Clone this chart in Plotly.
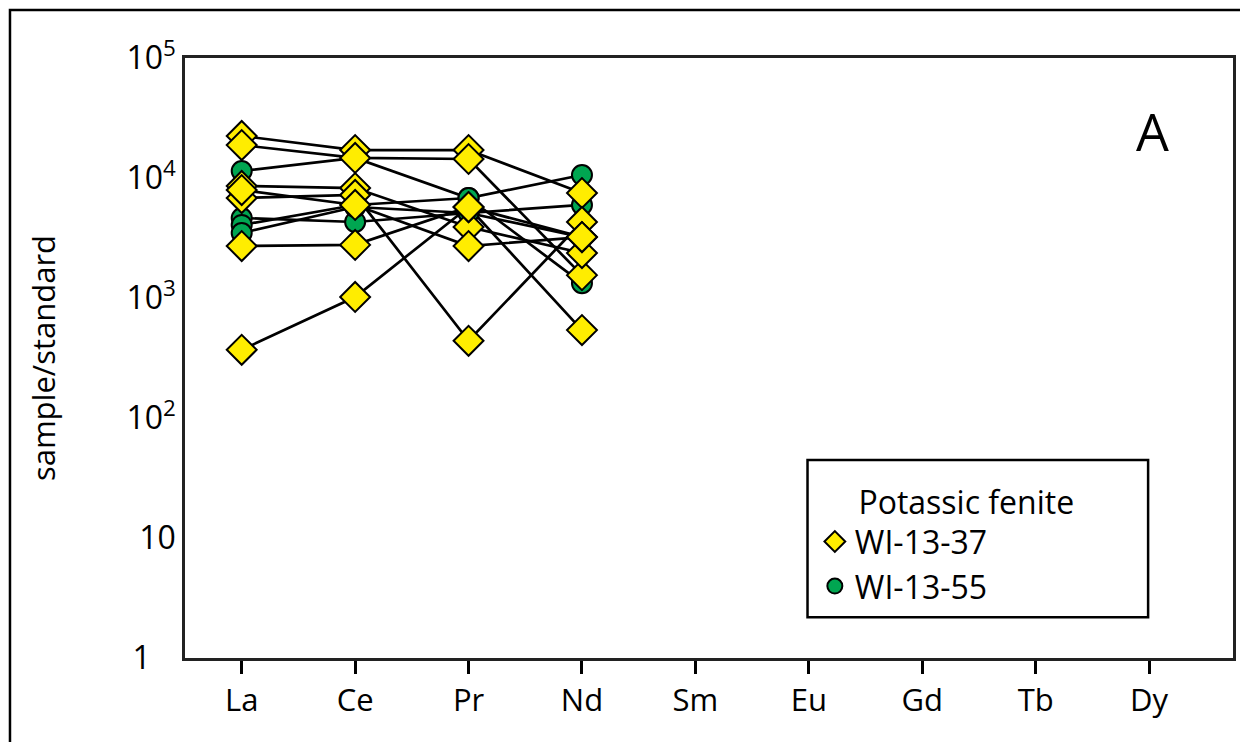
import plotly.graph_objects as go

# REE elements on the x axis
elements = ["La", "Ce", "Pr", "Nd", "Sm", "Eu", "Gd", "Tb", "Dy"]
measured = elements[:4]

# WI-13-37 (diamonds), sample/standard for La, Ce, Pr, Nd
wi37_1 = [22400, 17100, 17100, 7500]
wi37_2 = [18800, 14700, 14400, 1550]
wi37_3 = [8580, 8250, 3900, 2370]
wi37_4 = [6810, 7220, 440, 4300]
wi37_5 = [2710, 2770, 5730, 3220]
wi37_6 = [370, 1020, 5730, 540]
wi37_7 = [7940, 5960, 2710, 3220]

# WI-13-55 (circles)
wi55_1 = [11430, 14700, 6810, 10590]
wi55_2 = [4640, 4300, 5110, 5960]
wi55_3 = [4060, 5960, 6810, 1330]
wi55_4 = [3480, 5730, 5110, 3220]

wi37 = [wi37_1, wi37_2, wi37_3, wi37_4, wi37_5, wi37_6, wi37_7]
wi55 = [wi55_1, wi55_2, wi55_3, wi55_4]

ytick_vals = [1, 10, 100, 1000, 10000, 100000]
ytick_text = ["1&nbsp;&nbsp;&nbsp;", "10", "10<sup>2</sup>", "10<sup>3</sup>",
              "10<sup>4</sup>", "10<sup>5</sup>"]

yellow = "#FFED00"
green = "#00A651"
font = "Open Sans"

fig = go.Figure()

# lines first so markers sit on top
for s in wi37 + wi55:
    fig.add_trace(go.Scatter(x=measured, y=s, mode="lines",
                             line=dict(color="black", width=2.7),
                             showlegend=False, hoverinfo="skip"))

diamond = dict(symbol="diamond", size=23, color=yellow,
               line=dict(color="black", width=2))
circle = dict(symbol="circle", size=20, color=green,
              line=dict(color="black", width=2))

# circles under the diamonds
for s in wi55:
    fig.add_trace(go.Scatter(x=measured, y=s, mode="markers", marker=circle,
                             showlegend=False))
for s in wi37:
    fig.add_trace(go.Scatter(x=measured, y=s, mode="markers", marker=diamond,
                             showlegend=False))

# legend entries (marker only)
fig.add_trace(go.Scatter(x=[None], y=[None], mode="markers", name="WI-13-37",
                         marker=dict(symbol="diamond", size=18, color=yellow,
                                     line=dict(color="black", width=2))))
fig.add_trace(go.Scatter(x=[None], y=[None], mode="markers", name="WI-13-55",
                         marker=dict(symbol="circle", size=15, color=green,
                                     line=dict(color="black", width=2))))

fig.update_layout(
    width=1240, height=734,
    margin=dict(l=177, r=15, t=50, b=84),
    paper_bgcolor="white", plot_bgcolor="white",
    font=dict(family=font, size=31, color="black"),
    showlegend=True,
    legend=dict(
        x=0.601, y=0.309, xanchor="left", yanchor="top",
        bgcolor="rgba(0,0,0,0)", borderwidth=0,
        title=dict(text="&nbsp;&nbsp;&nbsp;&nbsp;&nbsp;Potassic fenite",
                   font=dict(size=32)),
        font=dict(size=32), itemsizing="trace", tracegroupgap=0,
    ),
    xaxis=dict(
        type="category", categoryorder="array", categoryarray=elements,
        range=[-0.5, 8.74], showgrid=False, zeroline=False,
        showline=True, linecolor="#222", linewidth=2.5, mirror=True,
        ticks="outside", ticklen=13, tickwidth=2.5, tickcolor="black",
        tickfont=dict(size=31),
    ),
    yaxis=dict(
        type="log", range=[0, 5], showgrid=False, zeroline=False,
        showline=True, linecolor="#222", linewidth=2.5, mirror=True,
        ticks="", tickvals=ytick_vals, ticktext=ytick_text,
        tickfont=dict(size=32),
        title=dict(text="sample/standard", font=dict(size=31), standoff=62),
    ),
    shapes=[
        # outer frame
        dict(type="rect", xref="paper", yref="paper",
             x0=-0.167, x1=1.02, y0=-0.2, y1=1.08,
             line=dict(color="black", width=2.5), layer="below"),
        # legend box
        dict(type="rect", xref="paper", yref="paper",
             x0=0.594, x1=0.919, y0=0.068, y1=0.33,
             line=dict(color="black", width=2.5)),
    ],
    annotations=[
        dict(text="A", xref="paper", yref="paper", x=0.923, y=0.88,
             xanchor="center", yanchor="middle",
             showarrow=False, font=dict(size=52, family=font)),
    ],
)

fig.write_html("out.html")
